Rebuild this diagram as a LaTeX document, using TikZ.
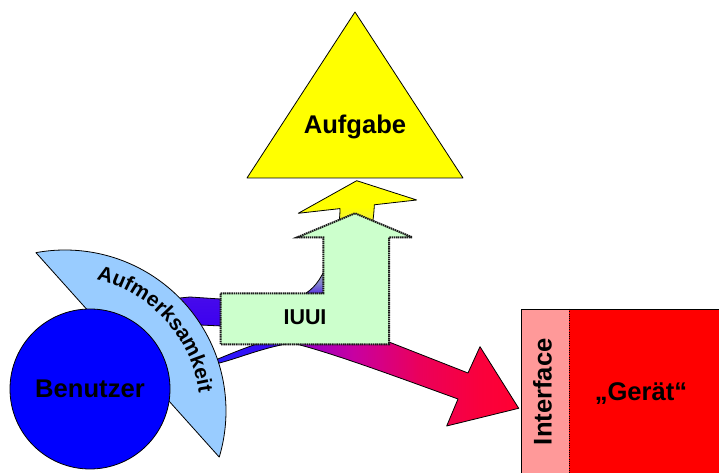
\documentclass[tikz,border=0pt]{standalone}
\usepackage{fontspec}
\setmainfont{Liberation Sans}
\usetikzlibrary{decorations.text}
\definecolor{triyellow}{HTML}{FFFF00}
\definecolor{intpink}{HTML}{FF9999}
\definecolor{geraetred}{HTML}{FF0000}
\definecolor{aufmblue}{HTML}{99CCFF}
\definecolor{benblue}{HTML}{0000FF}
\definecolor{iuuigreen}{HTML}{CCFFCC}
\definecolor{iuuiborder}{HTML}{1A1A1A}
% band one colours
\definecolor{bA}{RGB}{60,0,240}
\definecolor{bB}{RGB}{70,10,235}
\definecolor{bC}{RGB}{128,128,208}
\definecolor{bD}{RGB}{190,190,150}
\definecolor{bE}{RGB}{240,240,60}
\definecolor{bF}{RGB}{255,255,0}
% band two colours
\definecolor{cA}{RGB}{32,32,255}
\definecolor{cB}{RGB}{60,10,245}
\definecolor{cC}{RGB}{150,0,200}
\definecolor{cD}{RGB}{200,0,160}
\definecolor{cE}{RGB}{235,0,90}
\definecolor{cF}{RGB}{250,0,60}
\definecolor{cG}{RGB}{255,0,50}
\pgfdeclareverticalshading{bandone}{100bp}{color(0bp)=(bA); color(25bp)=(bA); color(35bp)=(bB); color(40bp)=(bC); color(50bp)=(bD); color(61bp)=(bE); color(66bp)=(bF); color(75bp)=(bF); color(100bp)=(bF)}
\pgfdeclarehorizontalshading{bandtwo}{100bp}{color(0bp)=(cA); color(25bp)=(cA); color(38.5bp)=(cB); color(42bp)=(cC); color(50bp)=(cD); color(60bp)=(cE); color(69bp)=(cF); color(75bp)=(cG); color(100bp)=(cG)}
\newcommand\lblfont{\fontsize{19.2pt}{22pt}\selectfont\bfseries}
\newcommand\iuuifont{\fontsize{16.1pt}{19pt}\selectfont\bfseries}
\newcommand\aufmfont{\fontsize{15.7pt}{18pt}\selectfont\bfseries}
\begin{document}
\begin{tikzpicture}[x=0.75pt,y=-0.75pt,
  outl/.style={draw=black,line width=0.6pt,line join=round},
  lbl/.style={font=\lblfont,text=black,inner sep=0pt},
  lblsmall/.style={font=\iuuifont,text=black,inner sep=0pt}]
\useasboundingbox[fill=white] (0,0) rectangle (719,473);

% Aufgabe triangle
\draw[outl,fill=triyellow] (355,12) -- (463,178) -- (247,178) -- cycle;
\node[lbl,anchor=base] (aufg) at (355,134) {Aufgabe};

% band one (to Aufgabe)
\path[outl,shading=bandone]
  (150,301) -- (190,297) -- (220,299) -- (295,297)
  .. controls (305,296) and (315,288) .. (322,275)
  .. controls (329,262) and (340,235) .. (340,208.6)
  -- (298.3,213.3) -- (356.7,180.7) -- (416.7,200) -- (374.3,204.8)
  .. controls (372,270) and (330,325) .. (265,328)
  -- (200,325) -- (155,327) -- cycle;

% band two (to Interface)
\path[outl,shading=bandtwo]
  (190,370) -- (213,361)
  .. controls (240,350) and (280,332) .. (320,332)
  .. controls (350,332) and (375,337) .. (389,342)
  -- (468,373) -- (480,346.7) -- (518.7,408.3) -- (446.7,426) -- (458,399)
  .. controls (400,378) and (330,352) .. (292,343)
  .. controls (260,348) and (235,360) .. (213,364.5)
  -- (190,374) -- cycle;

% IUUI bent arrow
\draw[fill=iuuigreen,draw=iuuiborder,line width=1.5pt,dash pattern=on 1.1pt off 0.5pt]
  (220.7,293.3) -- (323.3,293.3) -- (323.3,237.3) -- (297.3,237.3) -- (355,213.3)
  -- (412.3,237.3) -- (389,237.3) -- (389,344.3) -- (220.7,344.3) -- cycle;
\node[lblsmall,anchor=base] (iuui) at (305,325) {IUUI};

% Aufmerksamkeit segment
\draw[outl,fill=aufmblue]
  plot[domain=0:1,samples=90] ({65+161*cos(100.4-117.1*\x)},{411-161*sin(100.4-117.1*\x)}) -- cycle;
\path[decorate,decoration={text along path,text={|\aufmfont|Aufmerksamkeit},text align=center}]
  plot[domain=0:1,samples=80] ({65+135*cos(92-100*\x)},{411-135*sin(92-100*\x)});

% Benutzer
\draw[outl,fill=benblue] (90,389) circle[radius=60pt];
\node[lbl,anchor=base] (ben) at (90,398) {Benutzer};

% Interface / Geraet
\fill[intpink] (521.7,309) rectangle (719,473);
\fill[geraetred] (569.3,309) rectangle (719,473);
\draw[black,line width=0.7pt] (521.7,473) -- (521.7,309) -- (719,309);
\draw[black,line width=0.7pt,densely dotted] (569.3,309) -- (569.3,473);
\node[lbl,anchor=base,rotate=90] (intf) at (551.7,391.7) {Interface};
\node[lbl,anchor=base] (ger) at (641,401) {„Gerät“};
\end{tikzpicture}
\end{document}
